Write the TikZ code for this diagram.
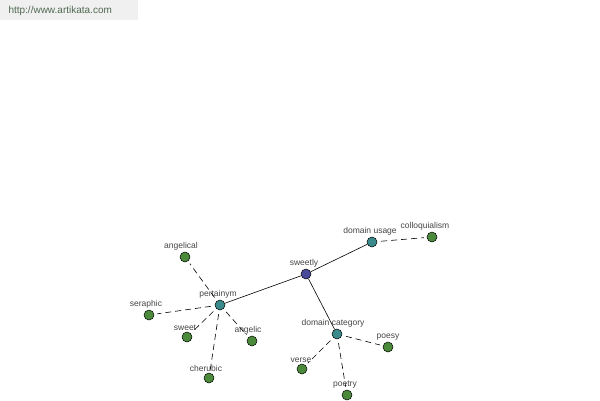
\documentclass[tikz,border=0pt]{standalone}
\usepackage{fontspec}
\setmainfont{Liberation Sans}
\usepackage{tikz}
\definecolor{hubblue}{RGB}{74, 74, 154}
\definecolor{relteal}{RGB}{58, 138, 140}
\definecolor{leafgreen}{RGB}{74, 138, 58}
\definecolor{urlgreen}{RGB}{80, 105, 80}
\definecolor{lblgray}{RGB}{70, 70, 70}
\usetikzlibrary{arrows, shapes}

\begin{document}
\begin{tikzpicture}[x=1pt, y=-1pt,
				dot/.style={circle, draw=black, line width=0.5pt, inner sep=0pt, minimum size=10pt, fill=#1},
				lbl/.style={text=lblgray, font=\fontsize{8.5}{9}\selectfont, inner sep=0.5pt, label distance=0.5pt},
				rel/.style={black, line width=0.6pt},
				lnk/.style={black, line width=0.6pt, dash pattern=on 6pt off 4pt, shorten <=4pt, shorten >=3pt}]
				%Bildbereich
				\useasboundingbox (0,0) rectangle (600,400);
				\fill[white] (0,0) rectangle (600,400);
				%Kopfzeile
				\fill[black!6] (0,0) rectangle (138,20);
				\node[text=urlgreen, font=\fontsize{10}{11}\selectfont, anchor=west] (url) at (5,10.5) {http://www.artikata.com};
				% Knoten
				\node[dot=hubblue, label={[lbl, xshift=-2pt]above:sweetly}] (sweetly) at (306,274) {};
				\node[dot=relteal, label={[lbl, xshift=-2pt]above:pertainym}] (pertainym) at (220,305) {};
				\node[dot=relteal, label={[lbl, xshift=-2pt]above:domain usage}] (usage) at (372,242) {};
				\node[dot=relteal, label={[lbl, xshift=-4pt]above:domain category}] (category) at (337,334) {};
				% Blaetter
				\foreach \name/\x/\y/\dx in {angelical/185/257/-4, seraphic/149/315/-3, sweet/187/337/-2,
						angelic/252/341/-4, cherubic/209/378/-3, colloquialism/432/237/-7,
						poesy/388/347/0, verse/302/369/-1, poetry/347/395/-2}
					\node[dot=leafgreen, label={[lbl, xshift=\dx pt]above:\name}] (\name) at (\x,\y) {};
				% Verbindungen
				\draw[rel] (sweetly) -- (pertainym);
				\draw[rel] (sweetly) -- (usage);
				\draw[rel] (sweetly) -- (category);
				\foreach \leaf in {angelical, seraphic, sweet, angelic, cherubic}
					\draw[lnk] (pertainym) -- (\leaf);
				\draw[lnk] (usage) -- (colloquialism);
				\foreach \leaf in {poesy, verse, poetry}
					\draw[lnk] (category) -- (\leaf);
			\end{tikzpicture}
\end{document}
